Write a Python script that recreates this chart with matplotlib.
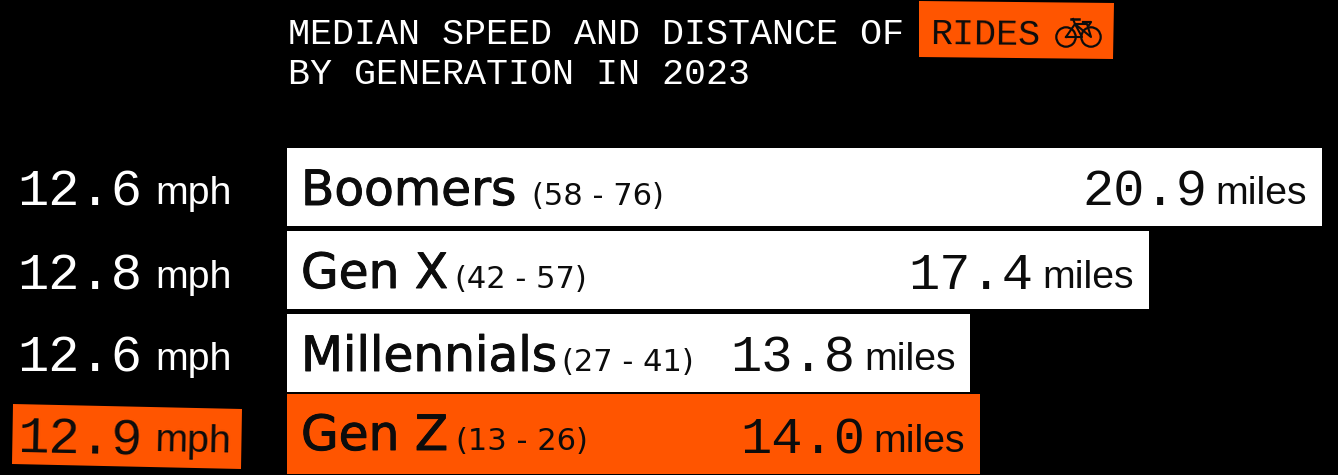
import matplotlib
matplotlib.use('Agg')
import matplotlib.pyplot as plt
from matplotlib.patches import Polygon, Circle
import matplotlib.patheffects as pe

generations = ['Boomers', 'Gen X', 'Millennials', 'Gen Z']
ages = ['(58 - 76)', '(42 - 57)', '(27 - 41)', '(13 - 26)']
speed_mph = [12.6, 12.8, 12.6, 12.9]
distance_miles = [20.9, 17.4, 13.8, 14.0]

orange = '#ff5500'
ink = '#0c0c0c'
mono = 'Liberation Mono'
wide = 'DejaVu Sans'
plain = 'Liberation Sans'

fig = plt.figure(figsize=(13.38, 4.75), dpi=100, facecolor='black')

# bars, x scale is 49.52 px per mile
bar_ax = fig.add_axes([287 / 1338, 0, 1051 / 1338, 1], zorder=1)
bar_ax.set_xlim(0, 1051 / 49.52)
bar_ax.set_ylim(475, 0)
bar_ax.axis('off')

# overlay in pixel coords, y down
ax = fig.add_axes([0, 0, 1, 1], zorder=2)
ax.set_xlim(0, 1338)
ax.set_ylim(475, 0)
ax.axis('off')

centers = [187, 270, 353, 434]
heights = [78, 78, 78, 80]
baselines = [205, 288, 371, 450]
value_lines = [206, 289, 372, 453]
age_x = [532, 455, 562, 456]
colors = ['white', 'white', 'white', orange]
bar_ax.barh(centers, distance_miles, height=heights, color=colors, linewidth=0)

# title
ax.text(288, 44, 'MEDIAN SPEED AND DISTANCE OF', family=mono, fontsize=26.5, color='white')
ax.text(288, 84, 'BY GENERATION IN 2023', family=mono, fontsize=26.5, color='white')
ax.add_patch(Polygon([(919, 1), (1114, 3), (1113, 59), (919, 57)], color=orange, lw=0))
ax.text(930, 44, 'RIDES', family=mono, fontsize=26.5, color=ink, rotation=-0.5, rotation_mode='anchor')

# bike icon
for cx in (1066, 1091):
    ax.add_patch(Circle((cx, 37), 9.7, fill=False, ec=ink, lw=1.6))
bike_x = [1066, 1075, 1091, 1087, 1075, 1082, 1066]
bike_y = [37, 24, 37, 24, 24, 37, 37]
ax.plot(bike_x, bike_y, color=ink, lw=1.5)
ax.plot([1071, 1079], [19, 19], color=ink, lw=1.8)
ax.plot([1075, 1073], [24, 19], color=ink, lw=1.5)
ax.plot([1083, 1091, 1089], [22, 22, 25], color=ink, lw=1.6)

# highlight behind the Gen Z speed
ax.add_patch(Polygon([(13, 404), (242, 409), (241, 469), (12, 464)], color=orange, lw=0))

for i in range(4):
    y = value_lines[i]
    c = 'white' if i < 3 else ink
    rot = 0 if i < 3 else -1.2
    ax.text(17, y, f'{speed_mph[i]:.1f}', family=mono, fontsize=37.5, color=c, rotation=rot, rotation_mode='anchor')
    ax.text(155, y - 1.5, 'mph', family=plain, fontsize=28.3, color=c, rotation=rot, rotation_mode='anchor')

    ax.text(301, baselines[i], generations[i], family=wide, fontsize=35, color=ink,
            path_effects=[pe.withStroke(linewidth=0.7, foreground=ink)])
    ax.text(age_x[i], baselines[i], ages[i], family=wide, fontsize=22, color=ink)

    bar_ax.annotate('miles', (distance_miles[i], y - 1.5), xytext=(-15, 0), textcoords='offset pixels',
                    ha='right', va='baseline', family=plain, fontsize=28.3, color=ink)
    bar_ax.annotate(f'{distance_miles[i]:.1f}', (distance_miles[i], y), xytext=(-115, 0), textcoords='offset pixels',
                    ha='right', va='baseline', family=mono, fontsize=37.5, color=ink)

fig.savefig('out.png', dpi=100, facecolor='black')
